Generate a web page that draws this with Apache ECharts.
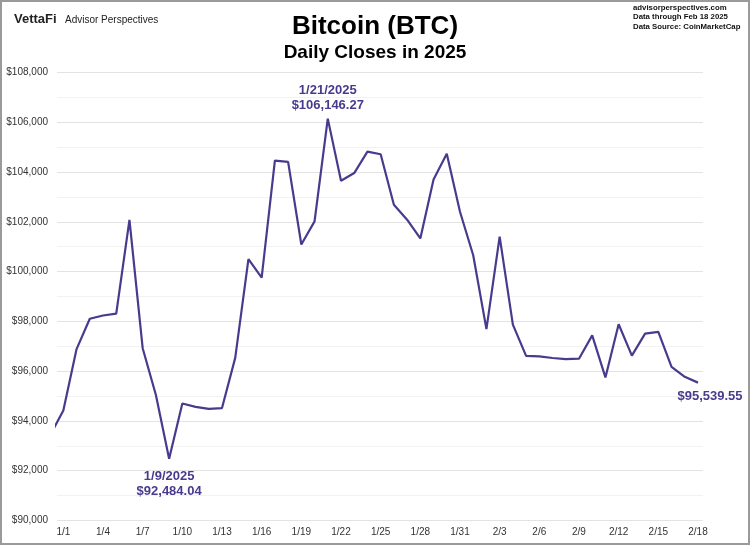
<!DOCTYPE html>
<html>
<head>
<meta charset="utf-8">
<script src="https://cdn.jsdelivr.net/npm/echarts@6/dist/echarts.min.js"></script>
<style>
  html, body { margin: 0; padding: 0; background: #fff; }
  #main { width: 750px; height: 545px; }
</style>
</head>
<body>
<div id="main"></div>
<script>
// daily closes, 12/31/2024 .. 2/18/2025 (first one only feeds the clipped start of the line)
var dates = ['12/31',
  '1/1','1/2','1/3','1/4','1/5','1/6','1/7','1/8','1/9','1/10',
  '1/11','1/12','1/13','1/14','1/15','1/16','1/17','1/18','1/19','1/20',
  '1/21','1/22','1/23','1/24','1/25','1/26','1/27','1/28','1/29','1/30','1/31',
  '2/1','2/2','2/3','2/4','2/5','2/6','2/7','2/8','2/9','2/10',
  '2/11','2/12','2/13','2/14','2/15','2/16','2/17','2/18'];
var closes = [93429.20,
  94419.76, 96886.88, 98107.43, 98236.23, 98314.96, 102078.09, 96922.70, 95043.52, 92484.04, 94701.46,
  94566.59, 94488.44, 94516.52, 96534.04, 100504.49, 99756.91, 104462.04, 104408.07, 101089.61, 102016.66,
  106146.27, 103653.07, 103960.17, 104819.48, 104714.65, 102682.50, 102087.69, 101332.48, 103703.21, 104735.30, 102405.03,
  100655.91, 97688.98, 101405.42, 97871.82, 96615.44, 96593.57, 96529.09, 96482.45, 96500.09, 97437.55,
  95747.43, 97885.86, 96623.87, 97508.97, 97580.35, 96175.03, 95773.38, 95539.55];
var tickLabels = ['1/1','1/4','1/7','1/10','1/13','1/16','1/19','1/22','1/25','1/28','1/31',
  '2/3','2/6','2/9','2/12','2/15','2/18'];

var purple = '#4a3a8e';
var font = 'Liberation Sans, Arial, sans-serif';

function money(v, dec) {
  return '$' + v.toLocaleString('en-US', { minimumFractionDigits: dec, maximumFractionDigits: dec });
}

// day index: 1/1 = 0
var seriesData = closes.map(function (v, i) { return [i - 1, v]; });
var tickValues = tickLabels.map(function (t) { return dates.indexOf(t) - 1; });

function note(d, withDate, label) {
  var i = dates.indexOf(d);
  var v = closes[i];
  label.show = true;
  label.formatter = (withDate ? d + '/2025\n' : '') + money(v, 2);
  return { coord: [i - 1, v], symbol: 'circle', symbolSize: 0, label: label };
}

var myChart = echarts.init(document.getElementById('main'));
myChart.setOption({
  animation: false,
  backgroundColor: '#fff',
  textStyle: { fontFamily: font },
  title: [
    { text: 'Bitcoin (BTC)', left: 'center', top: 9,
      textStyle: { fontSize: 26, fontWeight: 'bold', color: '#000', fontFamily: font } },
    { text: 'Daily Closes in 2025', left: 'center', top: 38,
      textStyle: { fontSize: 19, fontWeight: 'bold', color: '#000', fontFamily: font } }
  ],
  graphic: [
    { type: 'rect', shape: { x: 1, y: 1, width: 748, height: 543 },
      style: { fill: 'none', stroke: '#9a9a9a', lineWidth: 2 }, z: 100 },
    { type: 'text', left: 14, top: 13,
      style: { text: 'VettaFi', font: 'bold 13px ' + font, fill: '#222' } },
    { type: 'text', left: 65, top: 15,
      style: { text: 'Advisor Perspectives', font: '10px ' + font, fill: '#222' } },
    { type: 'text', left: 633, top: 3,
      style: { text: 'advisorperspectives.com\nData through Feb 18 2025\nData Source: CoinMarketCap',
        font: 'bold 7.8px ' + font, lineHeight: 9.5, fill: '#111' } }
  ],
  grid: { left: 57, right: 47, top: 72.5, bottom: 24.5 },
  xAxis: {
    type: 'value',
    min: -0.48,
    max: 48.38,
    axisLine: { show: false },
    axisTick: { show: false },
    splitLine: { show: false },
    axisLabel: {
      customValues: tickValues,
      margin: 7,
      fontSize: 10,
      color: '#333',
      formatter: function (v) { return dates[Math.round(v) + 1]; }
    }
  },
  yAxis: {
    type: 'value',
    min: 90000,
    max: 108000,
    interval: 2000,
    axisLine: { show: false },
    axisTick: { show: false },
    axisLabel: { margin: 9, fontSize: 10, color: '#333',
      formatter: function (v) { return money(v, 0); } },
    splitLine: { lineStyle: { color: '#e3e3e3', width: 1 } },
    minorTick: { show: false, splitNumber: 2 },
    minorSplitLine: { show: true, lineStyle: { color: '#f2f2f2', width: 1 } }
  },
  series: [{
    type: 'line',
    data: seriesData,
    symbol: 'none',
    clip: true,
    lineStyle: { color: purple, width: 2.2 },
    markPoint: {
      silent: true,
      label: { color: purple, fontSize: 13, fontWeight: 'bold', lineHeight: 15, fontFamily: font },
      data: [
        note('1/21', true, { position: 'top', distance: 6, align: 'center' }),
        note('1/9', true, { position: 'bottom', distance: 10, align: 'center' }),
        note('2/18', false, { position: 'bottom', distance: 6, align: 'center', offset: [12, 0] })
      ]
    }
  }]
});
</script>
</body>
</html>
